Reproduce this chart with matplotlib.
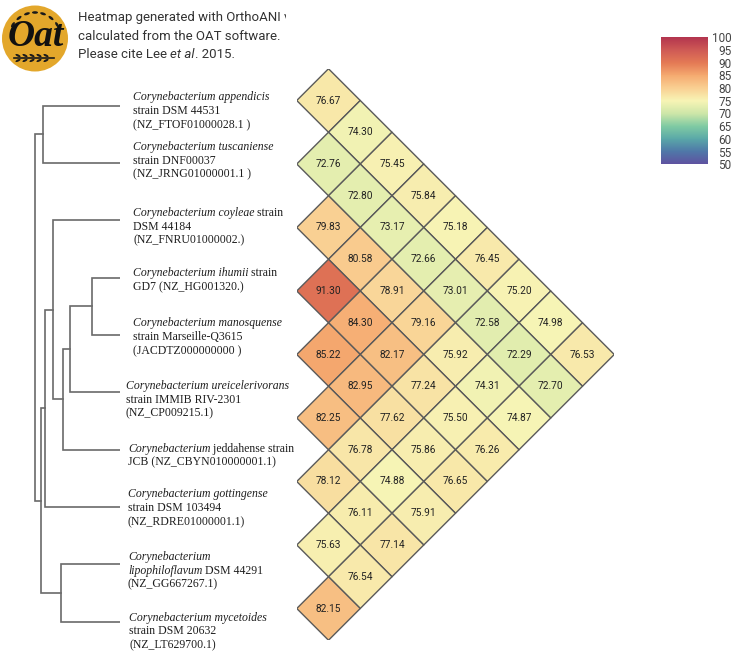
import math
import matplotlib
matplotlib.use('Agg')
import matplotlib.pyplot as plt
from matplotlib.collections import PolyCollection
from matplotlib.colors import Normalize, LinearSegmentedColormap
from matplotlib.cm import ScalarMappable
from matplotlib.patches import Circle, Ellipse
from matplotlib.transforms import Bbox, TransformedBbox

# OrthoANI values: row i holds the pairs (i, j) for j = i+1 .. 9
ani_rows = [
    [76.67, 74.30, 75.45, 75.84, 75.18, 76.45, 75.20, 74.98, 76.53],
    [72.76, 72.80, 73.17, 72.66, 73.01, 72.58, 72.29, 72.70],
    [79.83, 80.58, 78.91, 79.16, 75.92, 74.31, 74.87],
    [91.30, 84.30, 82.17, 77.24, 75.50, 76.26],
    [85.22, 82.95, 77.62, 75.86, 76.65],
    [82.25, 76.78, 74.88, 75.91],
    [78.12, 76.11, 77.14],
    [75.63, 76.54],
    [82.15],
]

# tree merges (left, right, height); leaves 0-9, new nodes numbered from 10
merges = [
    (3, 4, 0.283),
    (10, 5, 0.500),
    (11, 6, 0.573),
    (2, 12, 0.667),
    (13, 7, 0.747),
    (0, 1, 0.767),
    (8, 9, 0.587),
    (14, 16, 0.790),
    (15, 17, 0.847),
]

# species labels, each line a list of (text, italic)
labels = [
    [[("Corynebacterium appendicis", True)], [("strain DSM 44531", False)], [("(NZ_FTOF01000028.1 )", False)]],
    [[("Corynebacterium tuscaniense", True)], [("strain DNF00037", False)], [("(NZ_JRNG01000001.1 )", False)]],
    [[("Corynebacterium coyleae", True), (" strain", False)], [("DSM 44184", False)], [("(NZ_FNRU01000002.)", False)]],
    [[("Corynebacterium ihumii", True), (" strain", False)], [("GD7 (NZ_HG001320.)", False)]],
    [[("Corynebacterium manosquense", True)], [("strain Marseille-Q3615", False)], [("(JACDTZ000000000 )", False)]],
    [[("Corynebacterium ureicelerivorans", True)], [("strain IMMIB RIV-2301", False)], [("(NZ_CP009215.1)", False)]],
    [[("Corynebacterium", True), (" jeddahense strain", False)], [("JCB (NZ_CBYN010000001.1)", False)]],
    [[("Corynebacterium gottingense", True)], [("strain DSM 103494", False)], [("(NZ_RDRE01000001.1)", False)]],
    [[("Corynebacterium", True)], [("lipophiloflavum", True), (" DSM 44291", False)], [("(NZ_GG667267.1)", False)]],
    [[("Corynebacterium mycetoides", True)], [("strain DSM 20632", False)], [("(NZ_LT629700.1)", False)]],
]

cbar_ticks = [100, 95, 90, 85, 80, 75, 70, 65, 60, 55, 50]

# colour scale as it looks in the picture (value -> colour)
scale_values = [50, 55, 60, 65, 70, 75, 80, 85, 90, 95, 100]
scale_colors = ['#5f51a0', '#4f78a8', '#5aa8a8', '#7fcaa3', '#cde6a8', '#f7f4b5',
                '#f9cf92', '#f5aa70', '#e47a55', '#cf5a55', '#b3354e']

# layout (pixels)
W, H = 733, 652
label_x = [133, 133, 133, 133, 133, 126, 128, 128, 128, 129]
label_dy = [4.8, -2.8, 5.7, 1.7, 1.5, 6.4, 5.0, 0.3, 5.7, 8.9]
line_gap = 13.8

lo, hi = scale_values[0], scale_values[-1]
cmap = LinearSegmentedColormap.from_list(
    'oat', [((v - lo) / (hi - lo), c) for v, c in zip(scale_values, scale_colors)])
norm = Normalize(lo, hi)

fig = plt.figure(figsize=(W / 100, H / 100), dpi=100)

# full-figure canvas in pixel units for text and logo
canvas = fig.add_axes([0, 0, 1, 1])
canvas.set_xlim(0, W)
canvas.set_ylim(H, 0)
canvas.axis('off')

# dendrogram
dend = fig.add_axes([20 / W, (H - 650.3) / H, 100 / W, 573.3 / H])
dend.set_xlim(1, 0)
dend.set_ylim(9.5, -0.5)
dend.axis('off')
pos = {k: (0.0, float(k)) for k in range(10)}
for n, (a, b, h) in enumerate(merges):
    xa, ya = pos[a]
    xb, yb = pos[b]
    dend.plot([xa, h, h, xb], [ya, ya, yb, yb], color='#6a6a6a', lw=1.2,
              solid_joinstyle='miter')
    pos[10 + n] = (h, (ya + yb) / 2)

# heatmap of rotated squares
heat = fig.add_axes([296.75 / W, 11.75 / H, 317.5 / W, 571.5 / H])
heat.set_xlim(0, 5)
heat.set_ylim(9, 0)
heat.axis('off')
verts, vals, centers = [], [], []
for i, row in enumerate(ani_rows):
    for k, v in enumerate(row):
        j = i + 1 + k
        cx, cy = (j - i) * 0.5, (i + j) / 2
        verts.append([(cx - 0.5, cy), (cx, cy - 0.5), (cx + 0.5, cy), (cx, cy + 0.5)])
        vals.append(v)
        centers.append((cx, cy))
pc = PolyCollection(verts, array=vals, cmap=cmap, norm=norm,
                    edgecolors='#5a5a5a', linewidths=1.0)
heat.add_collection(pc)
for (cx, cy), v in zip(centers, vals):
    heat.text(cx, cy, f'{v:.2f}', ha='center', va='center', fontsize=7.3,
              family='Roboto', color='#222222')

# colour bar
cax = fig.add_axes([661 / W, (H - 164.3) / H, 47 / W, 127 / H])
sm = ScalarMappable(norm=norm, cmap=cmap)
cb = fig.colorbar(sm, cax=cax, ticks=cbar_ticks)
cb.outline.set_visible(False)
cax.tick_params(length=0, pad=17, labelsize=8.5, colors='#444444')
for t in cax.get_yticklabels():
    t.set_ha('right')
    t.set_family('Roboto')

# logo
canvas.add_patch(Circle((35, 38.5), 33, fc='#E3A72B', ec='none'))
for ang in [148, 128, 108, 90, 72, 52, 32]:
    r = 26
    ex = 35 + r * math.cos(math.radians(ang))
    ey = 38.5 - r * math.sin(math.radians(ang))
    canvas.add_patch(Ellipse((ex, ey), 6, 2.6, angle=-(ang - 90),
                             fc='#1a1a1a', ec='none'))
for gx in [18, 25, 32, 39, 46]:
    canvas.add_patch(Ellipse((gx, 55.5), 5.5, 2.2, angle=25, fc='#1a1a1a', ec='none'))
    canvas.add_patch(Ellipse((gx, 60.5), 5.5, 2.2, angle=-25, fc='#1a1a1a', ec='none'))
canvas.plot([14, 54], [58, 58], color='#1a1a1a', lw=1.2)
canvas.text(36, 36, 'Oat', ha='center', va='center', fontsize=27,
            family='Liberation Serif', weight='bold', style='italic', color='#111111')

fig.canvas.draw()
renderer = fig.canvas.get_renderer()


def draw_runs(x, y, runs, **kw):
    for txt, it in runs:
        t = canvas.text(x, y, txt, style='italic' if it else 'normal',
                        ha='left', va='baseline', **kw)
        x += t.get_window_extent(renderer).width
    return x


# header text
hdr = dict(fontsize=9.5, family='Roboto', color='#333333')
t1 = canvas.text(78, 17 + 4.5, 'Heatmap generated with OrthoANI values', ha='left',
                 va='baseline', **hdr)
t1.set_clip_box(TransformedBbox(Bbox([[0, 0], [286, 40]]), canvas.transData))
t1.set_clip_on(True)
canvas.text(78, 35 + 4.5, 'calculated from the OAT software.', ha='left', va='baseline', **hdr)
draw_runs(78, 53 + 4.5, [('Please cite Lee ', False), ('et al', True), ('. 2015.', False)], **hdr)

# species labels
for k, lines in enumerate(labels):
    leaf_y = canvas.transData.inverted().transform(dend.transData.transform((0, k)))[1]
    center = leaf_y + label_dy[k]
    n = len(lines)
    for m, runs in enumerate(lines):
        yy = center + (m - (n - 1) / 2) * line_gap + 3.8
        draw_runs(label_x[k], yy, runs, fontsize=8.5, family='Liberation Serif',
                  color='#1e1e1e')

fig.savefig('out.png', dpi=100)
